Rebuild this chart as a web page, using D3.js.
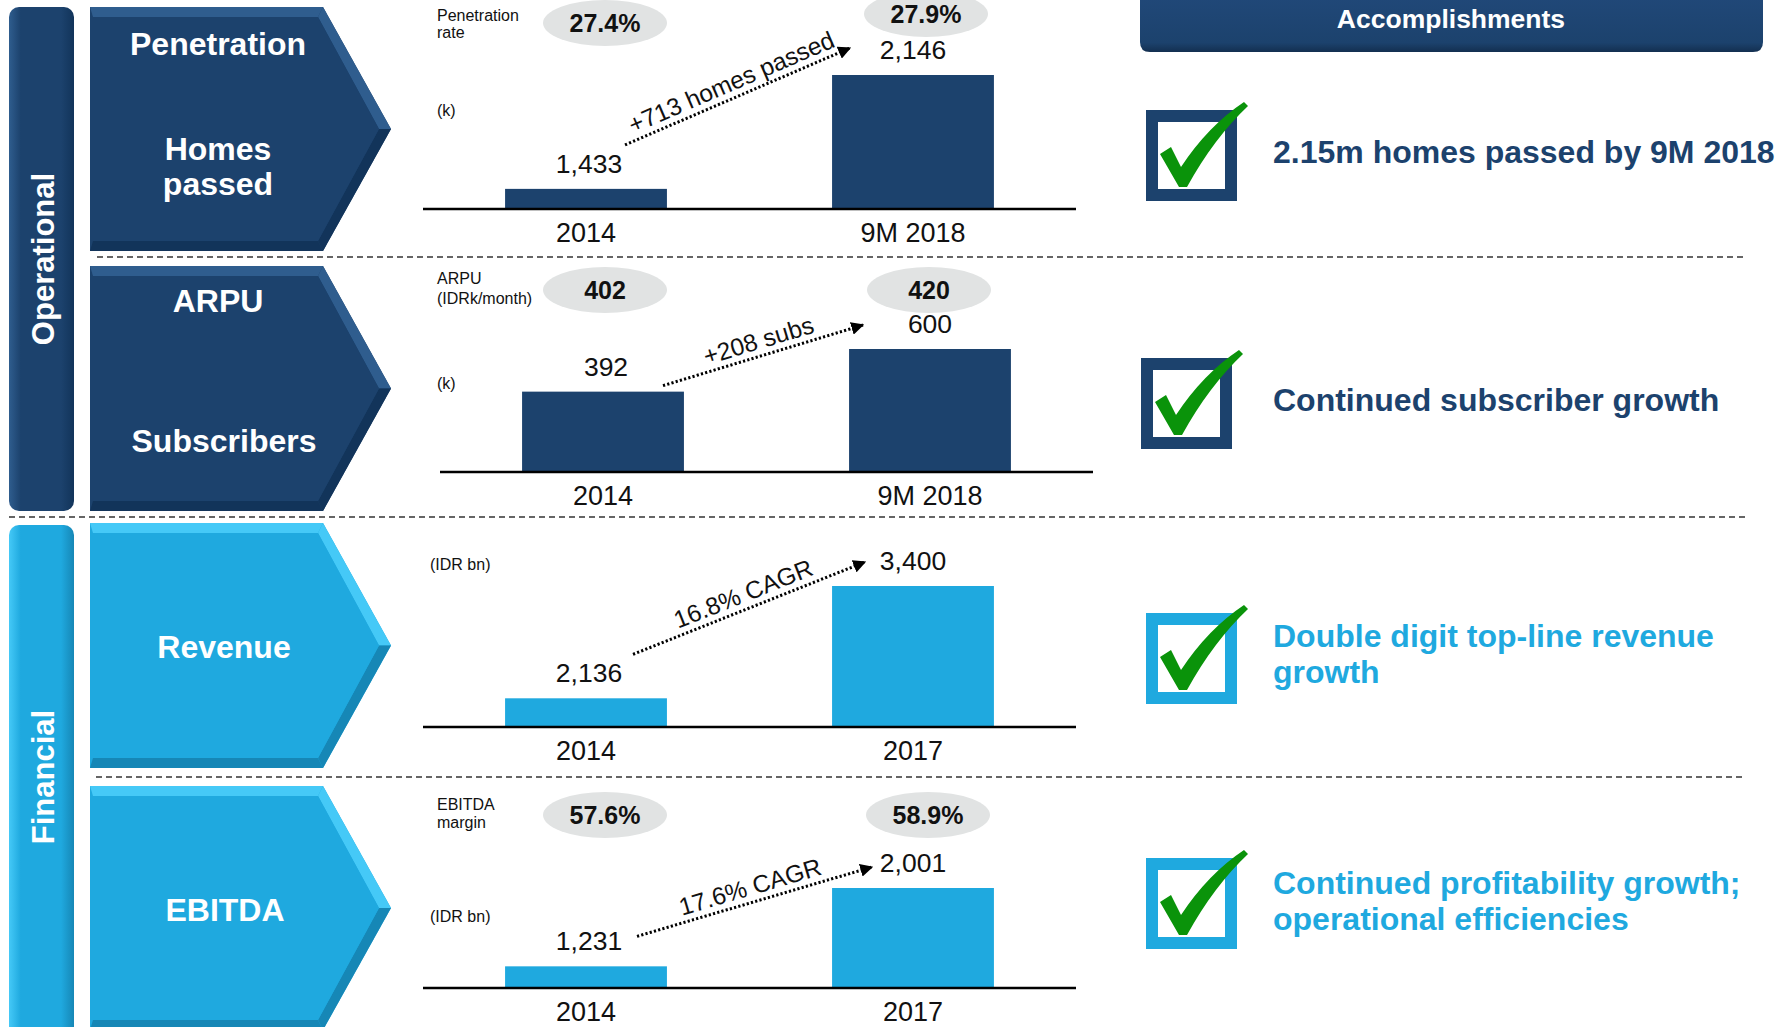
<!DOCTYPE html>
<html>
<head>
<meta charset="utf-8">
<script src="https://cdn.jsdelivr.net/npm/d3@7/dist/d3.min.js"></script>
<style>
  html, body { margin: 0; padding: 0; background: #fff; }
  svg { display: block; font-family: "Liberation Sans", Arial, sans-serif; }
</style>
</head>
<body>
<svg id="chart" width="1789" height="1027"></svg>
<script>
// ---- data ----
const homesCategories = ["2014", "9M 2018"];
const homesPassed = [1433, 2146];
const penetrationRate = ["27.4%", "27.9%"];

const subsCategories = ["2014", "9M 2018"];
const subscribers = [392, 600];
const arpu = ["402", "420"];

const finCategories = ["2014", "2017"];
const revenue = [2136, 3400];
const ebitda = [1231, 2001];
const ebitdaMargin = ["57.6%", "58.9%"];

const growthNotes = ["+713 homes passed", "+208 subs", "16.8% CAGR", "17.6% CAGR"];

const accomplishments = [
  ["2.15m homes passed by 9M 2018"],
  ["Continued subscriber growth"],
  ["Double digit top-line revenue", "growth"],
  ["Continued profitability growth;", "operational efficiencies"]
];

const navy = { main: "#1c426d", light: "#2f5d8e", dark: "#12345a", text: "#1c426d" };
const cyan = { main: "#1fa9df", light: "#45c9f7", dark: "#1687b6", text: "#1fa9df" };

const svg = d3.select("#chart");
const defs = svg.append("defs");

defs.append("marker")
  .attr("id", "arrow")
  .attr("markerUnits", "userSpaceOnUse")
  .attr("viewBox", "0 0 10 10")
  .attr("refX", 9).attr("refY", 5)
  .attr("markerWidth", 13).attr("markerHeight", 13)
  .attr("orient", "auto")
  .append("path").attr("d", "M0,0 L10,5 L0,10 Z").attr("fill", "#000");

function stripGradient(id, pal) {
  const g = defs.append("linearGradient").attr("id", id).attr("x1", 0).attr("x2", 1).attr("y1", 0).attr("y2", 0);
  g.append("stop").attr("offset", "0%").attr("stop-color", pal.light);
  g.append("stop").attr("offset", "18%").attr("stop-color", pal.main);
  g.append("stop").attr("offset", "80%").attr("stop-color", pal.main);
  g.append("stop").attr("offset", "100%").attr("stop-color", pal.dark);
}
stripGradient("gNavy", navy);
stripGradient("gCyan", cyan);

const hdrGrad = defs.append("linearGradient").attr("id", "gHdr").attr("x1", 0).attr("x2", 0).attr("y1", 0).attr("y2", 1);
hdrGrad.append("stop").attr("offset", "0%").attr("stop-color", "#21497a");
hdrGrad.append("stop").attr("offset", "85%").attr("stop-color", "#1c426d");
hdrGrad.append("stop").attr("offset", "100%").attr("stop-color", "#132f50");

// ---- left section strips ----
const strips = [
  { label: "Operational", y0: 7, y1: 511, cy: 259, grad: "gNavy" },
  { label: "Financial", y0: 525, y1: 1045, cy: 777, grad: "gCyan" }
];
strips.forEach(s => {
  svg.append("rect").attr("x", 9).attr("y", s.y0).attr("width", 65).attr("height", s.y1 - s.y0)
    .attr("rx", 10).attr("fill", `url(#${s.grad})`);
  svg.append("text")
    .attr("transform", `translate(54,${s.cy}) rotate(-90)`)
    .attr("text-anchor", "middle").attr("fill", "#fff")
    .attr("font-size", 31).attr("font-weight", "bold").text(s.label);
});

// ---- chevrons ----
function chevron(x0, y0, x1, tip, y1, pal) {
  const ym = (y0 + y1) / 2, b = 10;
  const A = [x0, y0], B = [x1, y0], T = [tip, ym], C = [x1, y1], D = [x0, y1];
  const A2 = [x0 + 3, y0 + b], B2 = [x1 - 5, y0 + b], T2 = [tip - 12, ym], C2 = [x1 - 5, y1 - b], D2 = [x0 + 3, y1 - b];
  const g = svg.append("g");
  const poly = (pts, fill) => g.append("polygon").attr("points", pts.map(p => p.join(",")).join(" ")).attr("fill", fill);
  poly([A, B, T, C, D], pal.main);
  poly([A, B, B2, A2], pal.light);
  poly([B, T, T2, B2], pal.light);
  poly([T, C, C2, T2], pal.dark);
  poly([C, D, D2, C2], pal.dark);
  poly([A2, B2, T2, C2, D2], pal.main);
  return g;
}

const chevrons = [
  { y0: 7, y1: 251, pal: navy, labels: [["Penetration", 218, 55], ["Homes", 218, 160], ["passed", 218, 195]] },
  { y0: 266, y1: 511, pal: navy, labels: [["ARPU", 218, 312], ["Subscribers", 224, 452]] },
  { y0: 523, y1: 768, pal: cyan, labels: [["Revenue", 224, 658]] },
  { y0: 786, y1: 1030, pal: cyan, labels: [["EBITDA", 225, 921]] }
];
chevrons.forEach(c => {
  chevron(90, c.y0, 323, 391, c.y1, c.pal);
  c.labels.forEach(([t, x, y]) => {
    svg.append("text").attr("x", x).attr("y", y).attr("text-anchor", "middle")
      .attr("fill", "#fff").attr("font-size", 32).attr("font-weight", "bold").text(t);
  });
});

// ---- separators ----
[[97, 257], [9, 517], [96, 777]].forEach(([x0, y]) => {
  svg.append("line").attr("x1", x0).attr("x2", 1746).attr("y1", y).attr("y2", y)
    .attr("stroke", "#333").attr("stroke-width", 1.3).attr("stroke-dasharray", "6,4");
});

// ---- bar panels ----
const panels = [
  { cats: homesCategories, values: homesPassed, pal: navy, x0: 423, x1: 1076, base: 209, d0: 1307, h: 134,
    note: growthNotes[0], arrow: [39, -44, -63, -27], noteOff: 7,
    side: [["Penetration", 21], ["rate", 38], ["(k)", 116]],
    bubbles: penetrationRate, bubbleX: [605, 926], bubbleY: [23, 14] },
  { cats: subsCategories, values: subscribers, pal: navy, x0: 440, x1: 1093, base: 472, d0: 0, h: 123,
    note: growthNotes[1], arrow: [60, -6, -67, -24], noteOff: 7,
    side: [["ARPU", 284], ["(IDRk/month)", 304], ["(k)", 389]],
    bubbles: arpu, bubbleX: [605, 929], bubbleY: [290, 290] },
  { cats: finCategories, values: revenue, pal: cyan, x0: 423, x1: 1076, base: 727, d0: 1813, h: 141,
    note: growthNotes[2], arrow: [47, -44, -48, -24], noteOff: 7,
    side: [["(IDR bn)", 570, 430]],
    bubbles: null },
  { cats: finCategories, values: ebitda, pal: cyan, x0: 423, x1: 1076, base: 988, d0: 1018, h: 100,
    note: growthNotes[3], arrow: [51, -30, -41, -21], noteOff: 7,
    side: [["EBITDA", 810], ["margin", 828], ["(IDR bn)", 922, 430]],
    bubbles: ebitdaMargin, bubbleX: [605, 928], bubbleY: [815, 815] }
];

panels.forEach(p => {
  const g = svg.append("g");
  const x = d3.scaleBand().domain(p.cats).range([p.x0, p.x1]).paddingInner(0.505).paddingOuter(0.251);
  const y = d3.scaleLinear().domain([p.d0, d3.max(p.values)]).range([p.base, p.base - p.h]);
  const rows = p.cats.map((c, i) => ({ cat: c, v: p.values[i], i }));

  g.selectAll("rect.bar").data(rows).join("rect").attr("class", "bar")
    .attr("x", d => x(d.cat)).attr("width", x.bandwidth())
    .attr("y", d => y(d.v)).attr("height", d => p.base - y(d.v))
    .attr("fill", p.pal.main);

  g.selectAll("text.val").data(rows).join("text").attr("class", "val")
    .attr("x", d => x(d.cat) + x.bandwidth() / 2 + (d.i === 0 ? 3 : 0)).attr("y", d => y(d.v) - 16)
    .attr("text-anchor", "middle").attr("font-size", 26.5).attr("fill", "#111")
    .text(d => d3.format(",")(d.v));

  const axis = d3.axisBottom(x).tickSize(0).tickPadding(14);
  const ax = g.append("g").attr("transform", `translate(0,${p.base})`).call(axis);
  ax.select(".domain").attr("stroke", "#000").attr("stroke-width", 2.5)
    .attr("d", `M${p.x0},0H${p.x1}`);
  ax.selectAll("text").attr("font-size", 27).attr("fill", "#111")
    .attr("font-family", "Liberation Sans, Arial, sans-serif");

  // side labels
  p.side.forEach(([t, yy, xx]) => {
    g.append("text").attr("x", xx || 437).attr("y", yy).attr("font-size", 16).attr("fill", "#111").text(t);
  });

  // bubbles
  if (p.bubbles) {
    p.bubbles.forEach((b, i) => {
      g.append("ellipse").attr("cx", p.bubbleX[i]).attr("cy", p.bubbleY[i]).attr("rx", 62).attr("ry", 23)
        .attr("fill", "#e1e3e3");
      g.append("text").attr("x", p.bubbleX[i]).attr("y", p.bubbleY[i] + 9).attr("text-anchor", "middle")
        .attr("font-size", 25).attr("font-weight", "bold").attr("fill", "#111").text(b);
    });
  }

  // growth arrow
  const c0 = x(p.cats[0]) + x.bandwidth() / 2, c1 = x(p.cats[1]) + x.bandwidth() / 2;
  const ax1 = c0 + p.arrow[0], ay1 = y(p.values[0]) + p.arrow[1];
  const ax2 = c1 + p.arrow[2], ay2 = y(p.values[1]) + p.arrow[3];
  g.append("line").attr("x1", ax1).attr("y1", ay1).attr("x2", ax2).attr("y2", ay2)
    .attr("stroke", "#000").attr("stroke-width", 3).attr("stroke-dasharray", "2.2,2.2")
    .attr("marker-end", "url(#arrow)");
  const ang = Math.atan2(ay2 - ay1, ax2 - ax1);
  const mx = (ax1 + ax2) / 2 + Math.sin(ang) * p.noteOff, my = (ay1 + ay2) / 2 - Math.cos(ang) * p.noteOff;
  g.append("text").attr("transform", `translate(${mx},${my}) rotate(${ang * 180 / Math.PI})`)
    .attr("text-anchor", "middle").attr("font-size", 24.5).attr("fill", "#111").text(p.note);
});

// ---- accomplishments ----
svg.append("path")
  .attr("d", "M1140,-10 H1763 V42 Q1763,52 1753,52 H1150 Q1140,52 1140,42 Z")
  .attr("fill", "url(#gHdr)");
svg.append("text").attr("x", 1451).attr("y", 28).attr("text-anchor", "middle")
  .attr("fill", "#fff").attr("font-size", 26.5).attr("font-weight", "bold").text("Accomplishments");

const boxes = [
  { x: 1146, y: 110, pal: navy, ty: [163] },
  { x: 1141, y: 358, pal: navy, ty: [411] },
  { x: 1146, y: 613, pal: cyan, ty: [647, 683] },
  { x: 1146, y: 858, pal: cyan, ty: [894, 930] }
];
const tick = "M14,44 L25,37 L35,57 Q62,16 98,-8 L102,-4 Q68,28 41,77 L33,77 Z";
boxes.forEach((b, i) => {
  svg.append("rect").attr("x", b.x + 6).attr("y", b.y + 6).attr("width", 79).attr("height", 79)
    .attr("fill", "#fff").attr("stroke", b.pal.main).attr("stroke-width", 12);
  svg.append("path").attr("transform", `translate(${b.x},${b.y})`).attr("d", tick).attr("fill", "#0a930a");
  accomplishments[i].forEach((line, j) => {
    svg.append("text").attr("x", 1273).attr("y", b.ty[j]).attr("font-size", 32).attr("font-weight", "bold")
      .attr("fill", b.pal.text).text(line);
  });
});
</script>
</body>
</html>
